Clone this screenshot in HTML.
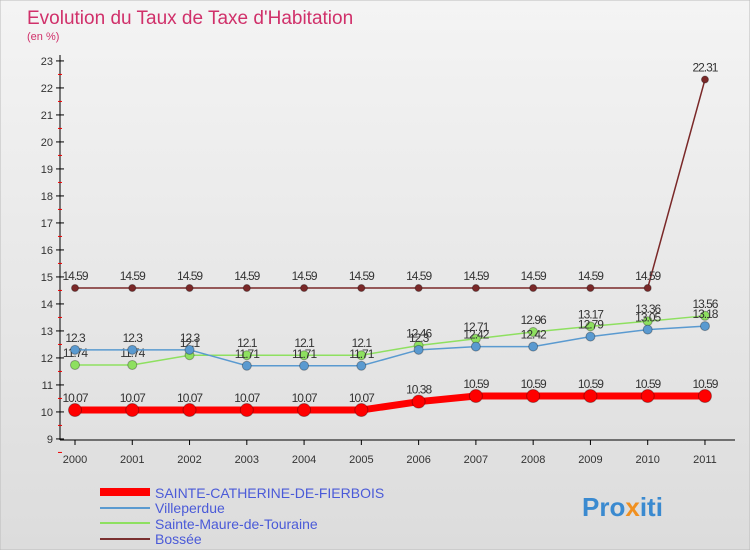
<!DOCTYPE html>
<html><head><meta charset="utf-8"><style>
body{margin:0;width:750px;height:550px;overflow:hidden;font-family:"Liberation Sans",sans-serif}
</style></head><body>
<svg id="c" width="750" height="550" xmlns="http://www.w3.org/2000/svg">
<defs><linearGradient id="bg" x1="0" y1="0" x2="0" y2="1"><stop offset="0" stop-color="#f4f4f4"/><stop offset="1" stop-color="#dcdcdc"/></linearGradient></defs>
<rect width="750" height="550" fill="url(#bg)" stroke="#bbb"/>
<text x="27" y="24" font-size="19" fill="#d0306a">Evolution du Taux de Taxe d'Habitation</text>
<text x="27" y="40" font-size="11" fill="#d0306a">(en %)</text>
<g id="axes"></g><g id="series"></g>
<g>
<rect x="100" y="488" width="50" height="8" fill="#f00"/>
<text x="155" y="498" font-size="14" fill="#4a5ad8">SAINTE-CATHERINE-DE-FIERBOIS</text>
<line x1="100" y1="508" x2="150" y2="508" stroke="#5a9ad0" stroke-width="2"/>
<text x="155" y="513" font-size="14" fill="#4a5ad8">Villeperdue</text>
<line x1="100" y1="523" x2="150" y2="523" stroke="#8ee060" stroke-width="2"/>
<text x="155" y="529" font-size="14" fill="#4a5ad8">Sainte-Maure-de-Touraine</text>
<line x1="100" y1="539" x2="150" y2="539" stroke="#7a3030" stroke-width="2"/>
<text x="155" y="544" font-size="14" fill="#4a5ad8">Bossée</text>
</g>
<text x="582" y="516" font-size="26" font-weight="bold" fill="#3a8ad0">Pro<tspan fill="#f09020">x</tspan>iti</text>
</svg>
<script>
const years=[2000,2001,2002,2003,2004,2005,2006,2007,2008,2009,2010,2011];
const sainteCatherine=[10.07,10.07,10.07,10.07,10.07,10.07,10.38,10.59,10.59,10.59,10.59,10.59];
const villeperdue=[12.3,12.3,12.3,11.71,11.71,11.71,12.3,12.42,12.42,12.79,13.05,13.18];
const sainteMaure=[11.74,11.74,12.1,12.1,12.1,12.1,12.46,12.71,12.96,13.17,13.36,13.56];
const bossee=[14.59,14.59,14.59,14.59,14.59,14.59,14.59,14.59,14.59,14.59,14.59,22.31];
const yTicks=[9,10,11,12,13,14,15,16,17,18,19,20,21,22,23];
const NS="http://www.w3.org/2000/svg";
const xS=i=>75+i*57.27, yS=v=>288-(v-14.59)*27;
function mk(t,a,p){const e=document.createElementNS(NS,t);for(const k in a)e.setAttribute(k,a[k]);p.appendChild(e);return e;}
const ax=document.getElementById('axes');
let l=mk('line',{x1:60,y1:55,x2:60,y2:440,stroke:'#000'},ax);

l=mk('line',{x1:60,y1:440,x2:735,y2:440,stroke:'#000'},ax);

yTicks.forEach(v=>{const y=yS(v);
 mk('line',{x1:56,y1:y,x2:64,y2:y,stroke:'#000'},ax);
 mk('line',{x1:58,y1:y+13.5,x2:62,y2:y+13.5,stroke:'#e00'},ax);
 const t=mk('text',{x:53,y:y+4,'font-size':11,'text-anchor':'end',fill:'#333'},ax);t.textContent=v;
 });
years.forEach((yr,i)=>{const x=xS(i);mk('line',{x1:x,y1:440,x2:x,y2:445,stroke:'#000'},ax);
 const t=mk('text',{x:x,y:463,'font-size':11,'text-anchor':'middle',fill:'#333'},ax);t.textContent=yr;
 });
const sg=document.getElementById('series');
function draw(vals,color,w,r,name){
 const g=mk('g',{},sg);
 
 const p=mk('polyline',{points:vals.map((v,i)=>xS(i)+','+yS(v)).join(' '),fill:'none',stroke:color,'stroke-width':w},g);
 vals.forEach((v,i)=>{const c=mk('circle',{cx:xS(i),cy:yS(v),r:r,fill:color,stroke:'rgba(0,0,0,0.3)'},g);
  
  const t=mk('text',{x:xS(i),y:yS(v)-8,'font-size':12,'text-anchor':'middle',fill:'#333','letter-spacing':'-1'},g);t.textContent=v;
  });
}
draw(bossee,'#7a2828',1.5,3.5,'series-bossee');
draw(sainteMaure,'#8ee060',1.5,4.5,'series-sainte-maure');
draw(villeperdue,'#5a9ad0',1.5,4.5,'series-villeperdue');
draw(sainteCatherine,'#f00',7,6.5,'series-sainte-catherine');
</script>
</body></html>
